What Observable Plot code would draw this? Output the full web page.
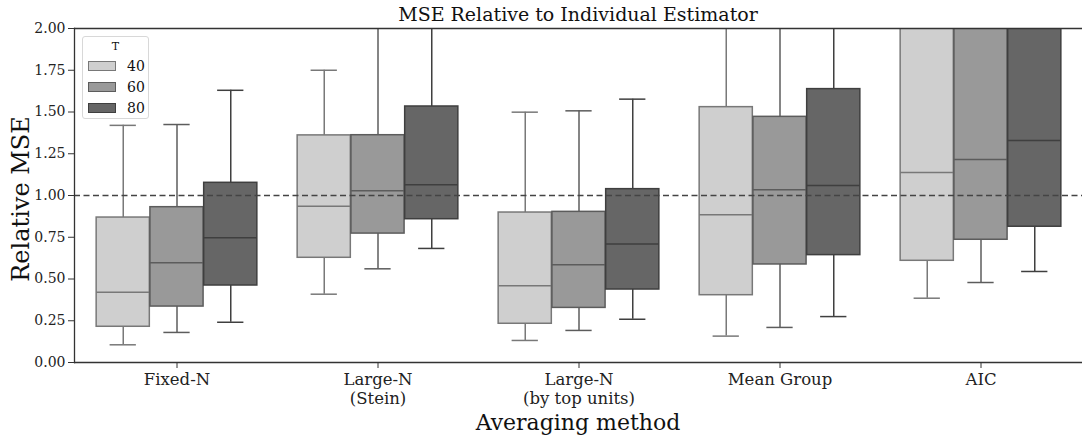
<!DOCTYPE html>
<html>
<head>
<meta charset="utf-8">
<script src="https://cdn.jsdelivr.net/npm/d3@7"></script>
<script src="https://cdn.jsdelivr.net/npm/@observablehq/plot@0.6"></script>
<style>
  html, body { margin: 0; padding: 0; background: #fff; }
  #wrap { position: relative; width: 1082px; height: 436px; font-family: "DejaVu Serif", serif; color: #111; overflow: hidden; }
  #title { position: absolute; top: 3px; left: 74px; width: 1008px; text-align: center; font-size: 19px; }
  #ylab { position: absolute; left: 21px; top: 199px; transform: translate(-50%, -50%) rotate(-90deg); font-size: 24px; white-space: nowrap; }
  #xlab { position: absolute; top: 410px; left: 74px; width: 1008px; text-align: center; font-size: 22px; }
  #legend { position: absolute; left: 82px; top: 36px; width: 67px; height: 83px; border: 1px solid #d8d8d8; border-radius: 3px; background: rgba(255,255,255,0.85); box-sizing: border-box; }
  #legend .lt { position: absolute; top: 3px; width: 100%; text-align: center; font-size: 11px; }
  #legend .row { position: absolute; left: 5px; height: 14px; display: flex; align-items: center; font-size: 14px; }
  #legend .sw { width: 28px; height: 10px; box-sizing: border-box; border: 1.5px solid; margin-right: 11px; }
</style>
</head>
<body>
<div id="wrap">
  <div id="title">MSE Relative to Individual Estimator</div>
  <div id="ylab">Relative MSE</div>
  <div id="xlab">Averaging method</div>
  <div id="legend"><div class="lt">T</div></div>
</div>
<script>
// ---- data ----
const methods = ["Fixed-N", "Large-N\n(Stein)", "Large-N\n(by top units)", "Mean Group", "AIC"];
const Tvalues = ["40", "60", "80"];
// per method: [T=40, T=60, T=80]
const whiskerLow  = [[0.106, 0.180, 0.241], [0.409, 0.561, 0.683], [0.132, 0.192, 0.259], [0.158, 0.210, 0.275], [0.385, 0.479, 0.545]];
const quartile1   = [[0.214, 0.335, 0.461], [0.627, 0.772, 0.858], [0.232, 0.327, 0.437], [0.403, 0.587, 0.643], [0.609, 0.735, 0.813]];
const medians     = [[0.420, 0.597, 0.747], [0.936, 1.028, 1.064], [0.459, 0.585, 0.709], [0.884, 1.034, 1.060], [1.138, 1.216, 1.329]];
const quartile3   = [[0.868, 0.930, 1.076], [1.360, 1.361, 1.533], [0.898, 0.902, 1.038], [1.529, 1.471, 1.637], [2.40, 2.60, 2.80]];
const whiskerHigh = [[1.420, 1.425, 1.630], [1.750, 2.20, 2.40], [1.499, 1.507, 1.577], [2.50, 2.40, 2.60], [4.00, 4.30, 4.60]];
const yTicks = [0, 0.25, 0.5, 0.75, 1.0, 1.25, 1.5, 1.75, 2.0];
const referenceLine = [1];

// ---- styles ----
const fills = ["#cfcfcf", "#999999", "#666666"];
const edges = ["#787878", "#5c5c5c", "#3f3f3f"];

const width = 1082, height = 436;
const mL = 74, mR = 0, mT = 28, mB = 74;
const bw = (width - mL - mR) / methods.length;
const boxW = 0.8 * bw / 3;
const boxInset = (bw - boxW) / 2;
const capInset = (bw - boxW / 2) / 2;

const marks = [];
Tvalues.forEach((t, i) => {
  const rows = methods.map((m, j) => ({
    method: m, T: t,
    low: whiskerLow[j][i], q1: quartile1[j][i], med: medians[j][i],
    q3: quartile3[j][i], high: whiskerHigh[j][i]
  }));
  const dx = (i - 1) * boxW;
  const common = { x: "method", dx, stroke: edges[i], strokeWidth: 1.5, clip: true };
  marks.push(
    Plot.ruleX(rows, { ...common, y1: "low", y2: "q1" }),
    Plot.ruleX(rows, { ...common, y1: "q3", y2: "high" }),
    Plot.barY(rows, { ...common, y1: "q1", y2: "q3", fill: fills[i], insetLeft: boxInset, insetRight: boxInset }),
    Plot.tickY(rows, { ...common, y: "med", insetLeft: boxInset, insetRight: boxInset }),
    Plot.tickY(rows, { ...common, y: "low", insetLeft: capInset, insetRight: capInset }),
    Plot.tickY(rows, { ...common, y: "high", insetLeft: capInset, insetRight: capInset })
  );
});

const plot = Plot.plot({
  width, height,
  marginLeft: mL, marginRight: mR, marginTop: mT, marginBottom: mB,
  style: { fontFamily: "DejaVu Serif, serif", background: "transparent", color: "#222" },
  x: { domain: methods, padding: 0 },
  y: { domain: [0, 2] },
  marks: [
    ...marks,
    Plot.ruleY(referenceLine, { stroke: "#444", strokeWidth: 1.6, strokeDasharray: "6,3.5" }),
    Plot.ruleY([0], { stroke: "#333", strokeWidth: 1.3 }),
    Plot.ruleY([2], { stroke: "#333", strokeWidth: 1.3 }),
    Plot.frame({ anchor: "left", stroke: "#333", strokeWidth: 1.3 }),
    Plot.axisY({ ticks: yTicks, tickFormat: d3.format(".2f"), tickSize: 6, tickPadding: 3, fontSize: 14, label: null, stroke: "#333" }),
    Plot.axisX({ tickSize: 6, tickPadding: 4, fontSize: 16.5, lineHeight: 1.1, label: null, stroke: "#333" })
  ]
});
document.getElementById("wrap").prepend(plot);

// legend
const leg = document.getElementById("legend");
Tvalues.forEach((t, i) => {
  const row = document.createElement("div");
  row.className = "row";
  row.style.top = (22 + i * 21) + "px";
  const sw = document.createElement("div");
  sw.className = "sw";
  sw.style.background = fills[i];
  sw.style.borderColor = edges[i];
  row.appendChild(sw);
  const lab = document.createElement("span");
  lab.textContent = t;
  row.appendChild(lab);
  leg.appendChild(row);
});
</script>
</body>
</html>
